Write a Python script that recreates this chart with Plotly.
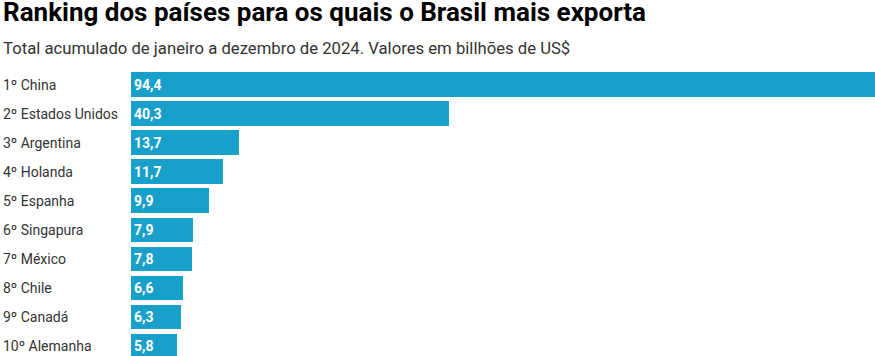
import plotly.graph_objects as go

countries = ["1º China", "2º Estados Unidos", "3º Argentina", "4º Holanda", "5º Espanha",
             "6º Singapura", "7º México", "8º Chile", "9º Canadá", "10º Alemanha"]
values = [94.4, 40.3, 13.7, 11.7, 9.9, 7.9, 7.8, 6.6, 6.3, 5.8]
value_labels = ["94,4", "40,3", "13,7", "11,7", "9,9", "7,9", "7,8", "6,6", "6,3", "5,8"]

title = "Ranking dos países para os quais o Brasil mais exporta"
subtitle = "Total acumulado de janeiro a dezembro de 2024. Valores em billhões de US$"

W, H = 875, 356
T, B = 70, 0
PH = H - T - B
FONT = "Roboto"
BAR_COLOR = "#18a0cb"


def py(px):
    return (H - B - px) / PH


pos = list(range(len(countries)))

fig = go.Figure(go.Bar(
    x=values, y=pos, orientation="h",
    marker=dict(color=BAR_COLOR, line=dict(width=0)),
    width=0.83,
    text=value_labels, textposition="inside", insidetextanchor="start",
    textangle=0, constraintext="none",
    textfont=dict(family=FONT, size=14, color="white", weight="bold"),
    hoverinfo="skip",
))

annotations = []
for i, c in enumerate(countries):
    annotations.append(dict(
        x=1 / W, xref="paper", xanchor="left",
        y=i, yref="y", yanchor="middle",
        text=c, showarrow=False,
        font=dict(family=FONT, size=14, color="#333333"),
    ))
annotations.append(dict(
    x=0.5 / W, xref="paper", xanchor="left",
    y=py(-5), yref="paper", yanchor="top",
    text="<b>" + title + "</b>", showarrow=False,
    font=dict(family=FONT, size=26, color="#000000"),
))
annotations.append(dict(
    x=1 / W, xref="paper", xanchor="left",
    y=py(37), yref="paper", yanchor="top",
    text=subtitle, showarrow=False,
    font=dict(family=FONT, size=16.7, color="#333333"),
))

fig.update_layout(
    width=W, height=H,
    margin=dict(l=0, r=0, t=T, b=B),
    paper_bgcolor="white", plot_bgcolor="white",
    showlegend=False,
    xaxis=dict(domain=[131 / W, 1], range=[0, 94.4], visible=False, fixedrange=True),
    yaxis=dict(range=[9.36, -0.5], visible=False, fixedrange=True),
    annotations=annotations,
    bargap=0,
)

fig.write_html(
    "out.html",
    config={"displayModeBar": False},
    post_script="document.body.style.margin='0';document.body.style.overflow='hidden';",
)
